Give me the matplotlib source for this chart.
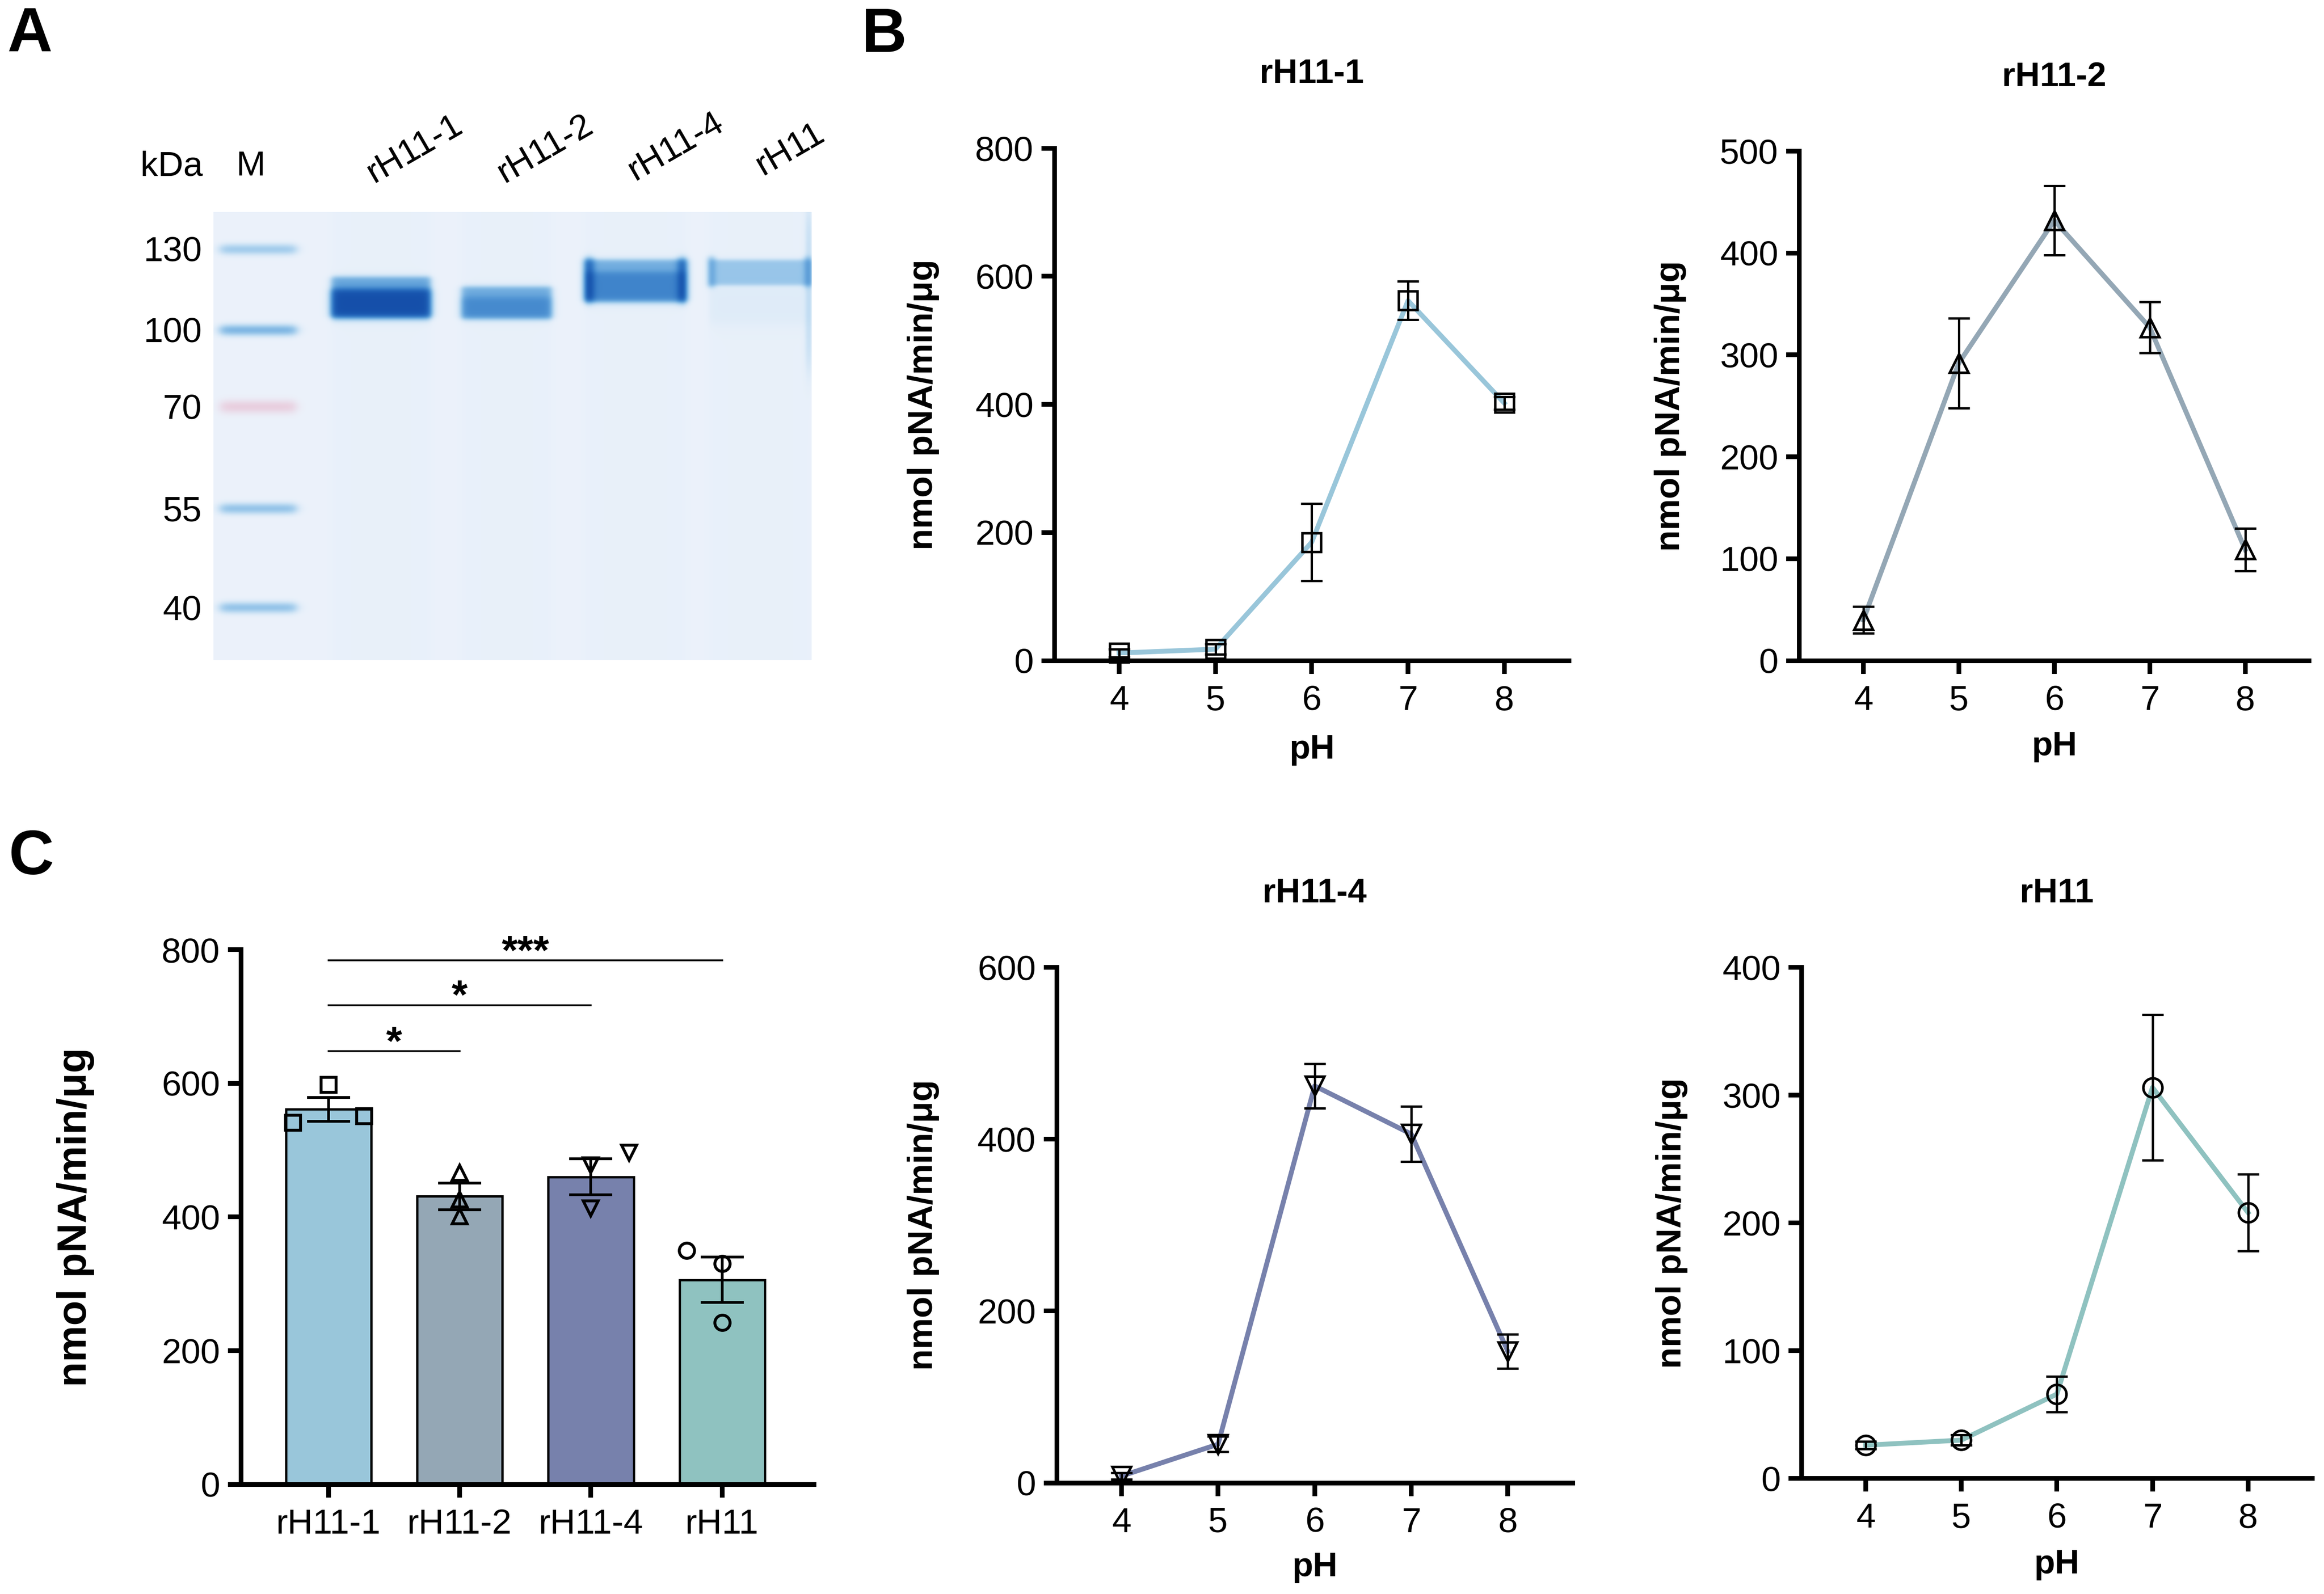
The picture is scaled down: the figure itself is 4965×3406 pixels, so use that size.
import numpy as np
import matplotlib.pyplot as plt

plt.rcParams['font.family'] = ['Liberation Sans', 'DejaVu Sans']
plt.rcParams['axes.linewidth'] = 2.4
plt.rcParams['xtick.major.width'] = 2.4
plt.rcParams['ytick.major.width'] = 2.4
plt.rcParams['xtick.major.size'] = 6.8
plt.rcParams['ytick.major.size'] = 6.8
plt.rcParams['xtick.labelsize'] = 18
plt.rcParams['ytick.labelsize'] = 18
plt.rcParams['xtick.major.pad'] = 5.5
plt.rcParams['ytick.major.pad'] = 4

# ---------------- data ----------------
ph = [4, 5, 6, 7, 8]
proteins = ['rH11-1', 'rH11-2', 'rH11-4', 'rH11']

act_rh11_1 = [12, 18, 185, 562, 402]
err_rh11_1 = [6, 8, 60, 30, 10]
act_rh11_2 = [40, 292, 432, 327, 109]
err_rh11_2 = [13, 44, 34, 25, 21]
act_rh11_4 = [8, 45, 462, 406, 153]
err_rh11_4 = [4, 9, 26, 32, 20]
act_rh11 = [26, 30, 66, 306, 208]
err_rh11 = [3, 4, 14, 57, 30]

# panel C: activity at pH 7
c_mean = [561, 431, 460, 306]
c_sem = [18, 20, 27, 34]
c_reps = [[541, 598, 551], [466, 426, 401], [477, 496, 413], [350, 330, 242]]
c_rep_offsets = [[-0.27, 0, 0.27], [0, 0, 0], [0, 0.29, 0], [-0.27, 0, 0]]
sig_pairs = [(0, 1, '*'), (0, 2, '*'), (0, 3, '***')]
sig_y = [648, 717, 784]

# panel A: gel
marker_kda = [130, 100, 70, 55, 40]
marker_band_y = [79, 252, 416, 634, 846]      # px from gel top
marker_band_od = [0.36, 0.6, 0.0, 0.45, 0.45]
marker_band_pink = [0, 0, 0.9, 0, 0]

colors = ['#99c6da', '#94a7b5', '#7781ac', '#8fc2c0']
markers = ['s', '^', 'v', 'o']
ylims = [800, 500, 600, 400]
ysteps = [200, 100, 200, 100]
acts = [act_rh11_1, act_rh11_2, act_rh11_4, act_rh11]
errs = [err_rh11_1, err_rh11_2, err_rh11_4, err_rh11]

YLAB = 'nmol pNA/min/\u03bcg'

W, H = 1568, 1076          # layout frame of the reference


def rect(l, r, t, b):
    return [l / W, 1 - b / H, (r - l) / W, (b - t) / H]


fig = plt.figure(figsize=(4965 / 300, 3406 / 300), dpi=300)

# ---------------- panel B: pH curves ----------------
b_boxes = [(711.5, 1058.5, 100, 446), (1214, 1558, 102, 446),
           (713, 1061, 653, 1001), (1215.5, 1560, 653, 998)]
b_ylab_x = [623, 1127, 623, 1128]
b_title_y = [50, 52, 603, 603]
b_xlab_y = [506, 504, 1058, 1056]

for i in range(4):
    l, r, t, b = b_boxes[i]
    ax = fig.add_axes(rect(l, r, t, b))
    ax.plot(ph, acts[i], color=colors[i], lw=2.5, zorder=2, clip_on=False)
    ax.errorbar(ph, acts[i], yerr=errs[i], fmt='none', ecolor='black',
                elinewidth=1.2, capsize=5.5, capthick=1.2, zorder=3, clip_on=False)
    ax.plot(ph, acts[i], ls='none', marker=markers[i], ms=9.8, mfc='none',
            mec='black', mew=1.3, zorder=4, clip_on=False)
    ax.set_xlim(3.33, 8.67)
    ax.set_ylim(0, ylims[i])
    ax.set_xticks(ph)
    ax.set_yticks(np.arange(0, ylims[i] + 1, ysteps[i]))
    for s in ['top', 'right']:
        ax.spines[s].set_visible(False)
    ax.set_ylabel(YLAB, fontsize=18, fontweight='bold')
    ax.yaxis.set_label_coords(b_ylab_x[i] / W, 1 - (t + b) / 2 / H, transform=fig.transFigure)
    ax.yaxis.label.set_va('center')
    ax.set_xlabel('pH', fontsize=17.5, fontweight='bold')
    ax.xaxis.set_label_coords((l + r) / 2 / W, 1 - b_xlab_y[i] / H, transform=fig.transFigure)
    ax.xaxis.label.set_va('center')
    fig.text((l + r) / 2 / W, 1 - b_title_y[i] / H, proteins[i], fontsize=17.5,
             fontweight='bold', ha='center', va='center')

# ---------------- panel C: bars ----------------
axc = fig.add_axes(rect(162.6, 549.2, 641, 1002))
xc = np.arange(len(proteins))
axc.bar(xc, c_mean, width=0.65, color=colors, edgecolor='black', linewidth=1.2, zorder=2)
axc.errorbar(xc, c_mean, yerr=c_sem, fmt='none', ecolor='black', elinewidth=1.4,
             capsize=11, capthick=1.4, zorder=3)
for i in range(4):
    axc.plot(xc[i] + np.array(c_rep_offsets[i]), c_reps[i], ls='none', marker=markers[i],
             ms=7.8, mfc='none', mec='black', mew=1.5, zorder=4, clip_on=False)
for (a, b2, lab), h in zip(sig_pairs, sig_y):
    axc.plot([a, b2], [h, h], color='black', lw=0.9, zorder=3)
    axc.text((a + b2) / 2, h - 5, lab, fontsize=21, fontweight='bold',
             ha='center', va='baseline')
axc.set_xlim(-0.667, 3.70)
axc.set_ylim(0, 800)
axc.set_yticks(np.arange(0, 801, 200))
axc.set_xticks(xc, proteins)
for s in ['top', 'right']:
    axc.spines[s].set_visible(False)
axc.set_ylabel(YLAB, fontsize=21, fontweight='bold')
axc.yaxis.set_label_coords(51 / W, 1 - (641 + 1002) / 2 / H, transform=fig.transFigure)
axc.yaxis.label.set_va('center')

# ---------------- panel A: gel ----------------
GEL_W, GEL_H = 1277, 957
axg = fig.add_axes(rect(144, 547.3, 143, 445.3))
gx = np.linspace(0, GEL_W, 700)
gy = np.linspace(0, GEL_H, 525)
X, Y = np.meshgrid(gx, gy)


def box(v, a, b, soft):
    return 0.5 * (np.tanh((v - a) / soft) - np.tanh((v - b) / soft))


od = np.zeros_like(X) + 0.01
od_pink = np.zeros_like(X)
mk_lane = box(X, 15, 175, 12)
for yb, o, p in zip(marker_band_y, marker_band_od, marker_band_pink):
    prof = np.exp(-((Y - yb) / 11.0) ** 2)
    od += o * mk_lane * prof
    od_pink += p * mk_lane * np.exp(-((Y - yb) / 14.0) ** 2)

lanes = [(253, 462), (531, 721), (795, 1008), (1059, 1277)]
for a, b2 in lanes:
    od += 0.015 * box(X, a, b2, 14)

l1 = box(X, 253, 462, 8)
od += l1 * (0.8 * box(Y, 139, 224, 6) + 1.6 * box(Y, 165, 224, 8))
l2 = box(X, 531, 721, 8)
od += l2 * (0.75 * box(Y, 160, 227, 6) + 0.45 * box(Y, 182, 225, 8))
l3 = box(X, 795, 1008, 6)
edge3 = np.exp(-((X - 802) / 12) ** 2) + np.exp(-((X - 1002) / 12) ** 2)
od += (l3 * (0.7 * box(Y, 102, 190, 6) + 0.6 * box(Y, 128, 190, 8))
       + 1.0 * edge3 * box(Y, 100, 190, 8))
l4 = box(X, 1059, 1280, 6)
edge4 = np.exp(-((X - 1064) / 10) ** 2) + np.exp(-((X - 1270) / 10) ** 2)
od += (l4 * (0.42 * box(Y, 102, 155, 5) + 0.04 * box(Y, 155, 240, 15))
       + 0.35 * edge4 * box(Y, 95, 160, 6) + 0.15 * np.exp(-((X - 1272) / 8) ** 2) * box(Y, 0, 330, 40))

bg = np.array([238, 243, 251]) / 255.0
k_blue = np.array([1.0, 0.46, 0.16])
k_pink = np.array([0.013, 0.17, 0.128])
img = bg * np.exp(-od[..., None] * k_blue - od_pink[..., None] * k_pink)
axg.imshow(np.clip(img, 0, 1), extent=(0, GEL_W, GEL_H, 0), aspect='auto',
           interpolation='bilinear')
axg.set_xlim(0, GEL_W)
axg.set_ylim(GEL_H, 0)
for s in axg.spines.values():
    s.set_visible(False)
axg.set_xticks([])
axg.set_yticks(marker_band_y, [str(k) for k in marker_kda])
axg.tick_params(axis='y', length=0, pad=6, labelsize=18)

axg.text(-89, -97, 'kDa', fontsize=18, ha='center', va='center', clip_on=False)
axg.text(80, -97, 'M', fontsize=18, ha='center', va='center', clip_on=False)
lane_label_xy = [(430, -134), (709, -134), (988, -139), (1232, -134)]
for name, (lx, ly) in zip(proteins, lane_label_xy):
    axg.text(lx, ly, name, fontsize=18, rotation=30, ha='center', va='center',
             rotation_mode='anchor', clip_on=False)

# ---------------- panel letters ----------------
for lab, x, y in [('A', 5, 35), ('B', 581, 35), ('C', 6, 590)]:
    fig.text(x / W, 1 - y / H, lab, fontsize=32, fontweight='bold', ha='left', va='baseline')

fig.savefig('out.png', dpi=300)
